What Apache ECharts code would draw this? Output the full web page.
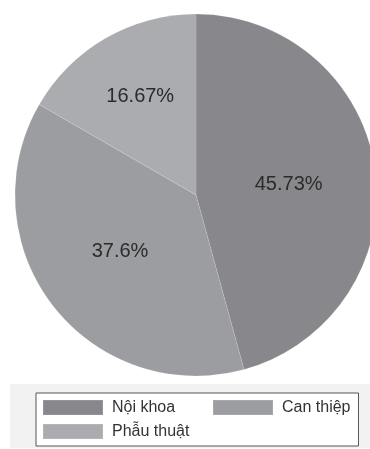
<!DOCTYPE html>
<html>
<head>
<meta charset="utf-8">
<script src="https://cdn.jsdelivr.net/npm/echarts@6/dist/echarts.min.js"></script>
<style>
    html, body { margin: 0; padding: 0; background: #fff; }
    #chart { width: 370px; height: 449px; }
</style>
</head>
<body>
<div id="chart"></div>
<script>
    // phân bố theo phương pháp điều trị
    var categories = ['Nội khoa', 'Can thiệp', 'Phẫu thuật'];
    var values = [45.73, 37.6, 16.67];
    var colors = ['#88888c', '#9c9da1', '#abacb0'];

    var pieData = [];
    for (var i = 0; i < categories.length; i++) {
        pieData.push({name: categories[i], value: values[i]});
    }
    // dịch nhãn cho giống hình gốc
    pieData[0].label = {offset: [0, 2]};
    pieData[1].label = {offset: [-2, -1]};
    pieData[2].label = {offset: [-9, -18]};

    var chart = echarts.init(document.getElementById('chart'));
    var option = {
        animation: false,
        color: colors,
        textStyle: {fontFamily: 'Liberation Sans, Arial, sans-serif'},
        graphic: [{
            type: 'rect',
            left: 10, top: 384,
            shape: {width: 360, height: 64},
            style: {fill: '#f2f2f2'},
            z: -1
        }],
        legend: {
            left: 36,
            top: 393,
            width: 320,
            padding: [6, 8, 6, 6],
            backgroundColor: '#fff',
            borderColor: '#555',
            borderWidth: 1,
            borderRadius: 0,
            icon: 'rect',
            itemWidth: 60,
            itemHeight: 15,
            itemGap: 7,
            data: [
                {name: categories[0], textStyle: {width: 93}},
                {name: categories[1]},
                {name: categories[2]}
            ],
            textStyle: {fontSize: 16, color: '#333', lineHeight: 16, padding: [0, 0, 0, 4]}
        },
        series: [
            {
                type: 'pie',
                center: [196, 195],
                radius: 181,
                startAngle: 90,
                clockwise: true,
                data: pieData,
                itemStyle: {borderColor: 'rgba(255,255,255,0.12)', borderWidth: 1},
                label: {
                    show: true,
                    position: 'inside',
                    formatter: '{c}%',
                    fontSize: 20,
                    color: '#2b2b2b'
                },
                labelLine: {show: false},
                emphasis: {disabled: true}
            }
        ]
    };
    chart.setOption(option);
</script>
</body>
</html>
